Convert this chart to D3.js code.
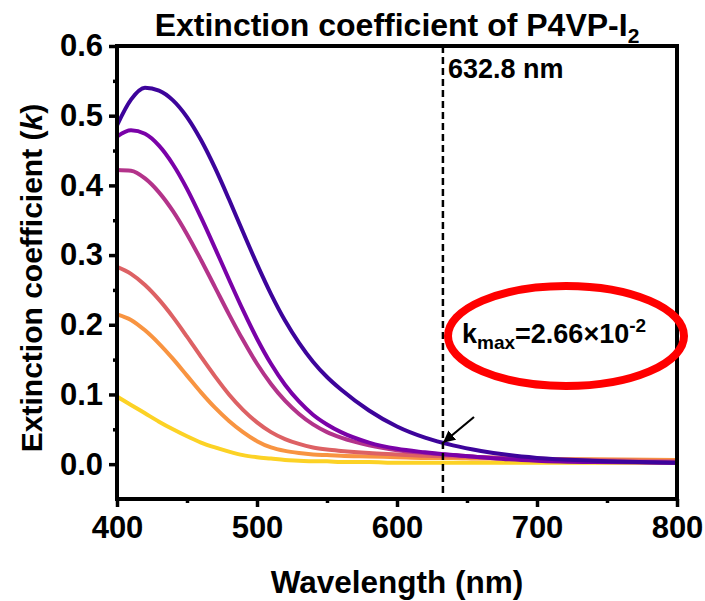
<!DOCTYPE html>
<html>
<head>
<meta charset="utf-8">
<script src="https://cdn.jsdelivr.net/npm/d3@7"></script>
<style>
  body { margin: 0; background: #fff; }
  svg text { font-family: "Liberation Sans", Arial, sans-serif; font-weight: bold; }
</style>
</head>
<body>
<svg id="chart" width="705" height="601"></svg>
<script>
// wavelength grid (nm)
const wavelengths = [400,410,420,430,440,450,460,470,480,490,500,510,520,530,540,550,560,580,600,620,640,660,680,700,740,800];

// extinction coefficient k, one array per curve (top to bottom at 400 nm)
const kIndigo  = [0.486,0.523,0.540,0.536,0.522,0.498,0.465,0.425,0.380,0.333,0.287,0.244,0.206,0.174,0.147,0.125,0.107,0.077,0.054,0.038,0.027,0.019,0.013,0.009,0.005,0.002];
const kPurple  = [0.470,0.479,0.474,0.457,0.430,0.395,0.354,0.310,0.265,0.221,0.180,0.144,0.114,0.090,0.071,0.057,0.046,0.031,0.022,0.017,0.013,0.010,0.007,0.005,0.003,0.002];
const kMagenta = [0.422,0.421,0.410,0.390,0.363,0.330,0.293,0.254,0.215,0.178,0.144,0.115,0.091,0.072,0.057,0.046,0.038,0.027,0.020,0.016,0.013,0.010,0.008,0.006,0.004,0.002];
const kSalmon  = [0.283,0.273,0.257,0.236,0.211,0.183,0.154,0.126,0.100,0.078,0.060,0.046,0.036,0.029,0.024,0.021,0.019,0.016,0.014,0.012,0.011,0.010,0.009,0.008,0.006,0.004];
const kOrange  = [0.215,0.207,0.192,0.173,0.151,0.127,0.103,0.081,0.062,0.046,0.033,0.024,0.019,0.016,0.014,0.013,0.012,0.011,0.010,0.009,0.009,0.008,0.008,0.007,0.007,0.006];
const kYellow  = [0.097,0.085,0.073,0.061,0.050,0.040,0.031,0.024,0.018,0.013,0.010,0.008,0.006,0.005,0.004,0.004,0.003,0.003,0.002,0.002,0.002,0.002,0.002,0.002,0.002,0.002];

const xTicks = [400,500,600,700,800];
const xMinor = [450,550,650,750];
const yTicks = [0,0.1,0.2,0.3,0.4,0.5,0.6];
const yMinor = [0.05,0.15,0.25,0.35,0.45,0.55];

const laserLine = 632.8;
const kMaxLabel = "2.66×10";

const svg = d3.select('#chart');
const margin = {left:117, top:46, right:28, bottom:102};
const width = +svg.attr('width') - margin.left - margin.right;
const height = +svg.attr('height') - margin.top - margin.bottom;

const xScale = d3.scaleLinear().domain([400, 800]).range([0, width]);
const yScale = d3.scaleLinear().domain([-0.05, 0.6]).range([height, 0]);

const g = svg.append('g')
  .attr('transform', `translate(${margin.left},${margin.top})`);

g.append('clipPath').attr('id', 'plotclip')
  .append('rect').attr('width', width).attr('height', height);

// curves, drawn bottom first so the indigo one lands on top
const series = [
  {k: kYellow,  color: '#fcd225'},
  {k: kOrange,  color: '#f89441'},
  {k: kSalmon,  color: '#dd6164'},
  {k: kMagenta, color: '#b3338a'},
  {k: kPurple,  color: '#7a02a8'},
  {k: kIndigo,  color: '#3d049b'}
];

const line = d3.line()
  .x(d => xScale(d[0]))
  .y(d => yScale(d[1]))
  .curve(d3.curveMonotoneX);

g.append('g').attr('clip-path', 'url(#plotclip)')
  .selectAll('path')
  .data(series).enter().append('path')
    .attr('d', s => line(wavelengths.map((w, i) => [w, s.k[i]])))
    .attr('fill', 'none')
    .attr('stroke', s => s.color)
    .attr('stroke-width', 4);

// dashed marker line at 632.8 nm
g.append('line')
  .attr('x1', xScale(laserLine)).attr('x2', xScale(laserLine))
  .attr('y1', 0).attr('y2', height)
  .attr('stroke', '#000').attr('stroke-width', 2.5)
  .attr('stroke-dasharray', '7,4');

g.append('text')
  .attr('x', xScale(laserLine) + 5).attr('y', 32)
  .attr('font-size', 27)
  .text(`${laserLine} nm`);

// axes
const yAxis = d3.axisLeft(yScale).tickValues(yTicks).tickSize(8).tickPadding(6)
  .tickFormat(d3.format('.1f'));
const yAxisMinor = d3.axisLeft(yScale).tickValues(yMinor).tickSize(4).tickFormat('');
const xAxis = d3.axisBottom(xScale).tickValues(xTicks).tickSize(8).tickPadding(9)
  .tickFormat(d3.format('d'));
const xAxisMinor = d3.axisBottom(xScale).tickValues(xMinor).tickSize(4).tickFormat('');

g.append('g').call(yAxis);
g.append('g').call(yAxisMinor);
g.append('g').attr('transform', `translate(0,${height})`).call(xAxis);
g.append('g').attr('transform', `translate(0,${height})`).call(xAxisMinor);

g.selectAll('.domain').remove();
g.selectAll('.tick line').attr('stroke', '#000').attr('stroke-width', 3.5);
g.selectAll('.tick text')
  .attr('font-family', '"Liberation Sans", Arial, sans-serif')
  .attr('font-weight', 'bold')
  .attr('font-size', 31)
  .attr('fill', '#000');

// frame
g.append('rect')
  .attr('width', width).attr('height', height)
  .attr('fill', 'none').attr('stroke', '#000').attr('stroke-width', 4);

// title
const title = svg.append('text')
  .attr('x', margin.left + width / 2).attr('y', 36)
  .attr('text-anchor', 'middle').attr('font-size', 32);
title.append('tspan').text('Extinction coefficient of P4VP-I');
title.append('tspan').attr('font-size', 21).attr('dy', 7).text('2');

// axis titles
svg.append('text')
  .attr('x', margin.left + width / 2).attr('y', 593)
  .attr('text-anchor', 'middle').attr('font-size', 31.5)
  .text('Wavelength (nm)');

const yTitle = svg.append('text')
  .attr('transform', `translate(42,${278}) rotate(-90)`)
  .attr('text-anchor', 'middle').attr('font-size', 30);
yTitle.append('tspan').text('Extinction coefficient (');
yTitle.append('tspan').attr('font-style', 'italic').text('k');
yTitle.append('tspan').text(')');

// k_max annotation with red ellipse
const kText = g.append('text')
  .attr('x', 462 - margin.left).attr('y', 343 - margin.top)
  .attr('font-size', 27);
kText.append('tspan').text('k');
kText.append('tspan').attr('font-size', 19).attr('dy', 6).text('max');
kText.append('tspan').attr('dy', -6).text('=' + kMaxLabel);
kText.append('tspan').attr('font-size', 19).attr('dy', -11).text('-2');

svg.append('ellipse')
  .attr('cx', 566).attr('cy', 336).attr('rx', 118).attr('ry', 50)
  .attr('fill', 'none').attr('stroke', '#ff0000').attr('stroke-width', 8);

// arrow pointing at the indigo curve on the dashed line
svg.append('defs').append('marker')
  .attr('id', 'arrowhead')
  .attr('viewBox', '0 0 10 10').attr('refX', 9).attr('refY', 5)
  .attr('markerWidth', 5.5).attr('markerHeight', 5.5)
  .attr('orient', 'auto')
  .append('path').attr('d', 'M0,0L10,5L0,10z').attr('fill', '#000');

const tipX = margin.left + xScale(laserLine) + 1;
const tipY = 442;
svg.append('line')
  .attr('x1', 474).attr('y1', 417)
  .attr('x2', tipX).attr('y2', tipY)
  .attr('stroke', '#000').attr('stroke-width', 2.2)
  .attr('marker-end', 'url(#arrowhead)');
</script>
</body>
</html>
